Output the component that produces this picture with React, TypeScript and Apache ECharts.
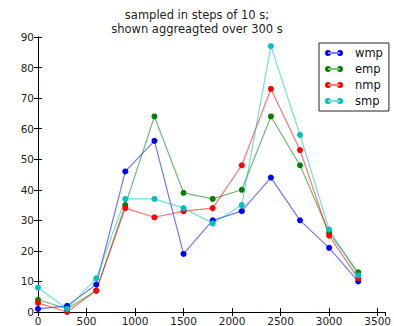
import React, { useEffect, useRef } from "react";
import * as echarts from "echarts";

const times = [0, 300, 600, 900, 1200, 1500, 1800, 2100, 2400, 2700, 3000, 3300];
const wmp = [1, 2, 9, 46, 56, 19, 30, 33, 44, 30, 21, 10];
const emp = [4, 1, 7, 35, 64, 39, 37, 40, 64, 48, 26, 13];
const nmp = [3, 0, 7, 34, 31, 33, 34, 48, 73, 53, 25, 11];
const smp = [8, 1, 11, 37, 37, 34, 29, 35, 87, 58, 27, 12];
const seriesNames = ["wmp", "emp", "nmp", "smp"];
const seriesColors = ["#0000ff", "#008000", "#ff0000", "#00bfbf"];
const titleLines = ["sampled in steps of 10 s;", "shown aggreagted over 300 s"];

const FONT = "DejaVu Sans";
const legendIcon =
  "path://M0,3a3,3 0 1,0 6,0a3,3 0 1,0 -6,0z M12,3a3,3 0 1,0 6,0a3,3 0 1,0 -6,0z M3,2.5h12v1h-12z";

export default function App() {
  const ref = useRef<HTMLDivElement>(null);
  useEffect(() => {
    if (!ref.current) return;
    const chart = echarts.init(ref.current, undefined, { renderer: "svg" });
    const all = [wmp, emp, nmp, smp];
    const axisCommon = {
      type: "value" as const,
      splitLine: { show: false },
      axisLine: { show: true, lineStyle: { color: "#000", width: 1 } },
      axisTick: { show: true, inside: true, length: 4, lineStyle: { color: "#000" } },
    };
    const xCommon = { ...axisCommon, min: 0, max: 3580, interval: 500 };
    const yCommon = { ...axisCommon, min: 0, max: 90, interval: 10 };
    chart.setOption({
      animation: false,
      backgroundColor: "#fff",
      title: titleLines.map((t, i) => ({
        text: t,
        left: "center",
        top: 9 + i * 13.5,
        padding: [0, 0, 0, 35],
        textStyle: { fontFamily: FONT, fontSize: 11.5, fontWeight: "normal", color: "#222" },
      })),
      grid: { left: 38, top: 37, right: 3, bottom: 14, containLabel: false },
      legend: {
        orient: "vertical",
        left: 319,
        top: 43,
        data: seriesNames.map((n) => ({ name: n, icon: legendIcon })),
        itemWidth: 18,
        itemHeight: 6,
        itemGap: 2,
        padding: [3, 6, 3, 6],
        borderColor: "#222",
        borderWidth: 1,
        backgroundColor: "#fff",
        textStyle: { fontFamily: FONT, fontSize: 11.5, color: "#111", padding: [0, 0, 0, 7], lineHeight: 14 },
      },
      xAxis: [
        {
          ...xCommon,
          position: "bottom",
          axisLabel: {
            fontFamily: FONT,
            fontSize: 10.5,
            color: "#222",
            margin: 3,
            showMaxLabel: false,
            formatter: (v: number) => (v % 500 === 0 ? String(v) : ""),
          },
        },
        { ...xCommon, position: "top", axisLabel: { show: false } },
      ],
      yAxis: [
        {
          ...yCommon,
          position: "left",
          axisLabel: { fontFamily: FONT, fontSize: 10.5, color: "#222", margin: 4 },
        },
        { ...yCommon, position: "right", axisLabel: { show: false } },
      ],
      series: seriesNames.map((name, i) => ({
        name,
        type: "line",
        xAxisIndex: 0,
        yAxisIndex: 0,
        data: times.map((t, j) => [t, all[i][j]]),
        symbol: "circle",
        symbolSize: 6,
        color: seriesColors[i],
        itemStyle: { color: seriesColors[i], opacity: 1 },
        lineStyle: { color: seriesColors[i], width: 1.2, opacity: 0.55 },
      })),
    });
    return () => chart.dispose();
  }, []);
  return (
    <div
      ref={ref}
      style={{ position: "absolute", left: 0, top: 0, width: 394, height: 326 }}
    />
  );
}
